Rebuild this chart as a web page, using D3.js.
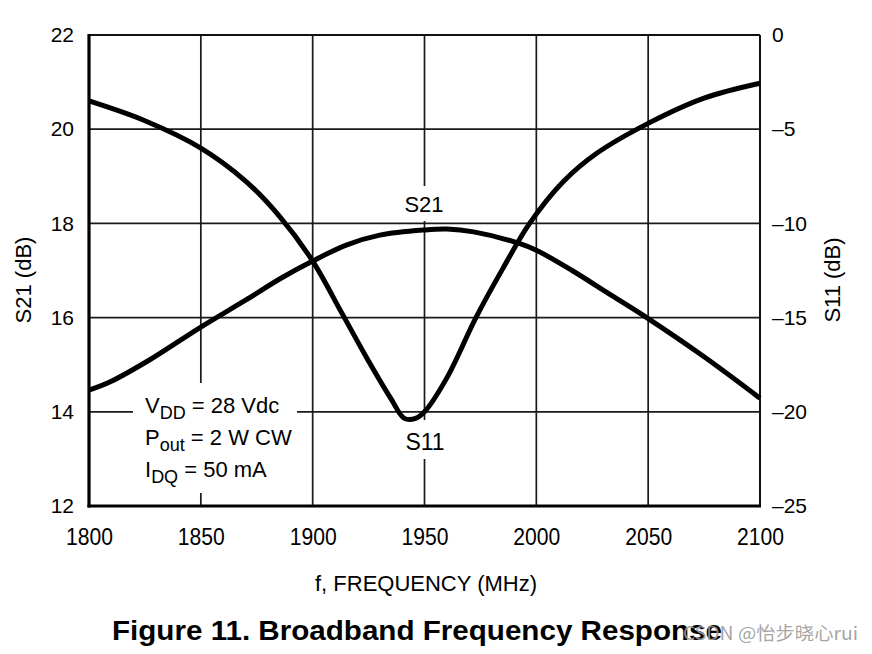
<!DOCTYPE html>
<html>
<head>
<meta charset="utf-8">
<script src="https://cdn.jsdelivr.net/npm/d3@7"></script>
<style>
  html, body { margin: 0; padding: 0; background: #fff; }
  svg { display: block; }
</style>
</head>
<body>
<svg id="chart" width="872" height="654"></svg>
<script>
// ---- data ----
const freqTicks = [1800, 1850, 1900, 1950, 2000, 2050, 2100];
const s21Ticks = [12, 14, 16, 18, 20, 22];
const s11Ticks = [-25, -20, -15, -10, -5, 0];

const s21Freq = [1800, 1810, 1827, 1850, 1870, 1886, 1900, 1915, 1930, 1950, 1960, 1972, 1992, 2000, 2016, 2032, 2050, 2075, 2100];
const s21Vals = [14.46, 14.65, 15.10, 15.80, 16.37, 16.84, 17.20, 17.54, 17.75, 17.86, 17.88, 17.82, 17.58, 17.43, 17.00, 16.52, 15.98, 15.17, 14.29];

const s11Freq = [1800, 1825, 1850, 1870, 1885, 1900, 1913, 1924, 1935, 1941, 1946, 1950, 1960, 1973, 1985, 1997, 2012, 2027, 2050, 2075, 2100];
const s11Vals = [-3.5, -4.55, -6.0, -7.75, -9.6, -12.0, -14.75, -17.1, -19.3, -20.35, -20.35, -20.0, -18.2, -15.0, -12.4, -10.0, -7.79, -6.28, -4.69, -3.35, -2.56];

const conditions = [
  { main: "V", sub: "DD", rest: " = 28 Vdc" },
  { main: "P", sub: "out", rest: " = 2 W CW" },
  { main: "I", sub: "DQ", rest: " = 50 mA" }
];

// ---- layout ----
const svg = d3.select("#chart");
const L = 89, R = 760, T = 35, B = 506;
const font = "'Liberation Sans', Arial, Helvetica, sans-serif";

const x = d3.scaleLinear().domain([1800, 2100]).range([L, R]);
const yL = d3.scaleLinear().domain([12, 22]).range([B, T]);
const yR = d3.scaleLinear().domain([-25, 0]).range([B, T]);

// grid
const grid = svg.append("g").attr("stroke", "#1a1a1a").attr("stroke-width", 1.7);
grid.selectAll("line.v").data(freqTicks.slice(1, -1)).join("line")
  .attr("x1", d => x(d)).attr("x2", d => x(d)).attr("y1", T).attr("y2", B);
grid.selectAll("line.h").data(s21Ticks.slice(1, -1)).join("line")
  .attr("x1", L).attr("x2", R).attr("y1", d => yL(d)).attr("y2", d => yL(d));

// white label boxes that interrupt the grid
svg.append("rect").attr("x", 133).attr("y", 383).attr("width", 164).attr("height", 110).attr("fill", "#fff");
svg.append("rect").attr("x", 400).attr("y", 186).attr("width", 50).attr("height", 35).attr("fill", "#fff");
svg.append("rect").attr("x", 400).attr("y", 420).attr("width", 50).attr("height", 39).attr("fill", "#fff");

// frame
svg.append("line").attr("x1", L).attr("x2", R).attr("y1", T).attr("y2", T).attr("stroke", "#111").attr("stroke-width", 2);
svg.append("line").attr("x1", R).attr("x2", R).attr("y1", T).attr("y2", B).attr("stroke", "#111").attr("stroke-width", 2);
svg.append("line").attr("x1", L).attr("x2", L).attr("y1", T - 1).attr("y2", B + 1.5).attr("stroke", "#000").attr("stroke-width", 3.2);
svg.append("line").attr("x1", L - 1.5).attr("x2", R + 1).attr("y1", B).attr("y2", B).attr("stroke", "#000").attr("stroke-width", 3.2);

// axes (labels only)
const dash = d => d < 0 ? "\u2013" + Math.abs(d) : String(d);
const axL = svg.append("g").attr("transform", `translate(${L},0)`)
  .call(d3.axisLeft(yL).tickValues(s21Ticks).tickSize(0).tickPadding(15));
const axR = svg.append("g").attr("transform", `translate(${R},0)`)
  .call(d3.axisRight(yR).tickValues(s11Ticks).tickSize(0).tickPadding(12).tickFormat(dash));
const axB = svg.append("g").attr("transform", `translate(0,${B})`)
  .call(d3.axisBottom(x).tickValues(freqTicks).tickSize(0).tickFormat(d3.format("d")));
[axL, axR, axB].forEach(a => {
  a.select(".domain").remove();
  a.selectAll("text").attr("fill", "#000").style("font-family", font).style("font-size", "21px");
});
axB.selectAll("text").attr("y", 39).attr("dy", 0).style("font-size", "24px").attr("textLength", 47).attr("lengthAdjust", "spacingAndGlyphs");

// curves
const curve = d3.curveCatmullRom.alpha(0.5);
const lineL = d3.line().x(d => x(d[0])).y(d => yL(d[1])).curve(curve);
const lineR = d3.line().x(d => x(d[0])).y(d => yR(d[1])).curve(curve);
svg.append("path").datum(d3.zip(s21Freq, s21Vals)).attr("d", lineL)
  .attr("fill", "none").attr("stroke", "#000").attr("stroke-width", 5).attr("stroke-linejoin", "round");
svg.append("path").datum(d3.zip(s11Freq, s11Vals)).attr("d", lineR)
  .attr("fill", "none").attr("stroke", "#000").attr("stroke-width", 5).attr("stroke-linejoin", "round");

// curve labels
svg.append("text").attr("x", 424).attr("y", 212).attr("text-anchor", "middle")
  .style("font-family", font).style("font-size", "22px").text("S21");
svg.append("text").attr("x", 425).attr("y", 450).attr("text-anchor", "middle")
  .style("font-family", font).style("font-size", "23px").text("S11");

// conditions block
const cond = svg.append("g").style("font-family", font).style("font-size", "22px");
conditions.forEach((c, i) => {
  const t = cond.append("text").attr("x", 145).attr("y", 413 + i * 32);
  t.append("tspan").text(c.main);
  t.append("tspan").attr("dy", 6).style("font-size", "18px").text(c.sub);
  t.append("tspan").attr("dy", -6).text(c.rest);
});

// axis titles
svg.append("text").attr("transform", "translate(31,280) rotate(-90)").attr("text-anchor", "middle")
  .style("font-family", font).style("font-size", "22px").text("S21 (dB)");
svg.append("text").attr("transform", "translate(840,280) rotate(-90)").attr("text-anchor", "middle")
  .style("font-family", font).style("font-size", "22px").text("S11 (dB)");
svg.append("text").attr("x", 426).attr("y", 591).attr("text-anchor", "middle")
  .style("font-family", font).style("font-size", "22px").text("f, FREQUENCY (MHz)");

// figure title
svg.append("text").attr("x", 112).attr("y", 640)
  .style("font-family", font).style("font-size", "28px").style("font-weight", "bold")
  .attr("textLength", 610).attr("lengthAdjust", "spacingAndGlyphs")
  .text("Figure 11. Broadband Frequency Response");

// watermark
svg.append("text").attr("x", 683).attr("y", 640)
  .style("font-family", "'Noto Sans CJK SC', " + font).style("font-size", "18px")
  .attr("fill", "#9a9a9a").attr("fill-opacity", 0.9)
  .attr("textLength", 175).attr("lengthAdjust", "spacingAndGlyphs")
  .text("CSDN @怡步晓心rui");
</script>
</body>
</html>
